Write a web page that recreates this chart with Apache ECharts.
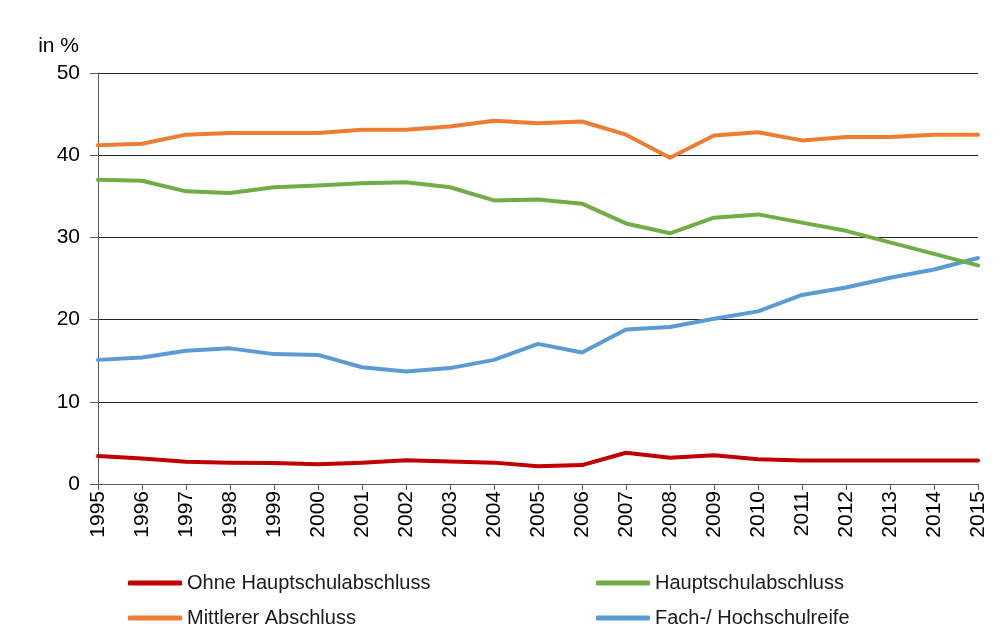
<!DOCTYPE html>
<html>
<head>
<meta charset="utf-8">
<script src="https://cdn.jsdelivr.net/npm/echarts@6/dist/echarts.min.js"></script>
<style>
  html, body { margin: 0; padding: 0; background: #fff; }
  #chart { width: 1000px; height: 635px; }
</style>
</head>
<body>
<div id="chart"></div>
<script>
// School leavers by type of qualification, share in percent
const years = ['1995','1996','1997','1998','1999','2000','2001','2002','2003','2004',
               '2005','2006','2007','2008','2009','2010','2011','2012','2013','2014','2015'];

const ohneHauptschulabschluss = [3.4, 3.1, 2.7, 2.6, 2.55, 2.4, 2.6, 2.9, 2.75, 2.6,
                                 2.15, 2.3, 3.8, 3.2, 3.5, 3.0, 2.85, 2.85, 2.85, 2.85, 2.85];
const hauptschulabschluss     = [37.0, 36.9, 35.6, 35.4, 36.1, 36.3, 36.6, 36.7, 36.1, 34.5,
                                 34.6, 34.1, 31.7, 30.5, 32.4, 32.8, 31.8, 30.8, 29.4, 28.0, 26.6];
const mittlererAbschluss      = [41.2, 41.4, 42.5, 42.7, 42.7, 42.7, 43.1, 43.1, 43.5, 44.2,
                                 43.9, 44.1, 42.5, 39.7, 42.4, 42.8, 41.8, 42.2, 42.2, 42.5, 42.5];
const hochschulreife          = [15.1, 15.4, 16.2, 16.5, 15.8, 15.7, 14.2, 13.7, 14.1, 15.1,
                                 17.05, 16.0, 18.8, 19.1, 20.1, 21.0, 23.0, 23.9, 25.1, 26.1, 27.5];

const seriesNames = ['Ohne Hauptschulabschluss', 'Hauptschulabschluss',
                     'Mittlerer Abschluss', 'Fach-/ Hochschulreife'];
const seriesColors = ['#C00000', '#70AD47', '#ED7D31', '#5B9BD5'];
const seriesData = [ohneHauptschulabschluss, hauptschulabschluss, mittlererAbschluss, hochschulreife];

// legend slots: [left, top] of each entry, two columns by two rows
const legendSlots = [[128, 573], [596, 573], [128, 608], [596, 608]];

const axisColor = '#595959';
const baseFont = 'Liberation Sans, Arial, sans-serif';

const chart = echarts.init(document.getElementById('chart'), null, { renderer: 'canvas' });

chart.setOption({
  animation: false,
  backgroundColor: '#fff',
  grid: { left: 98, right: 22, top: 73, bottom: 151, containLabel: false },
  legend: seriesNames.map((name, i) => ({
    left: legendSlots[i][0],
    top: legendSlots[i][1],
    data: [name],
    itemWidth: 54,
    itemHeight: 5,
    icon: 'roundRect',
    padding: 0,
    textStyle: { fontFamily: baseFont, fontSize: 20, color: '#1a1a1a' }
  })),
  xAxis: {
    type: 'category',
    data: years,
    boundaryGap: false,
    axisLine: { lineStyle: { color: axisColor, width: 1 } },
    axisTick: { show: true, length: 6, alignWithLabel: true, lineStyle: { color: axisColor } },
    axisLabel: {
      rotate: 90,
      interval: 0,
      margin: 7,
      color: '#000',
      fontFamily: baseFont,
      fontSize: 21
    },
    splitLine: { show: false }
  },
  yAxis: {
    type: 'value',
    min: 0,
    max: 50,
    interval: 10,
    name: 'in %',
    nameLocation: 'end',
    nameGap: 16,
    nameTextStyle: {
      fontFamily: baseFont, fontSize: 21, color: '#000',
      align: 'right', verticalAlign: 'bottom', padding: [0, 19, 0, 0]
    },
    axisLine: { show: true, lineStyle: { color: axisColor, width: 1 } },
    axisTick: { show: true, length: 8, lineStyle: { color: axisColor } },
    axisLabel: { color: '#000', fontFamily: baseFont, fontSize: 21, margin: 18 },
    splitLine: { show: true, lineStyle: { color: '#222', width: 1 } }
  },
  series: seriesNames.map((name, i) => ({
    name: name,
    type: 'line',
    data: seriesData[i],
    symbol: 'none',
    smooth: false,
    color: seriesColors[i],
    lineStyle: { width: 4, color: seriesColors[i], cap: 'round', join: 'round' },
    z: 10 - i
  }))
});
</script>
</body>
</html>
